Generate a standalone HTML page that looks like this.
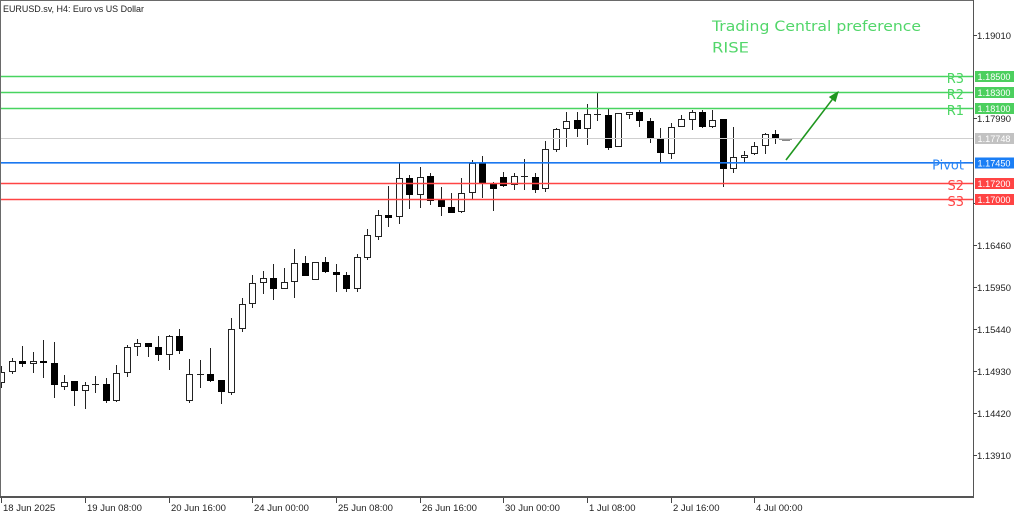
<!DOCTYPE html>
<html><head><meta charset="utf-8"><style>
html,body{margin:0;padding:0;background:#fff;}
svg{display:block;}
.t{font-family:"Liberation Sans",sans-serif;}
.v{font-family:"DejaVu Sans","Liberation Sans",sans-serif;}
</style></head><body>
<svg width="1024" height="516" viewBox="0 0 1024 516" xmlns="http://www.w3.org/2000/svg">
<rect x="0" y="0" width="1024" height="516" fill="#fff"/>
<defs><clipPath id="ca"><rect x="1" y="1" width="972" height="496"/></clipPath></defs>
<g clip-path="url(#ca)">
<g stroke="#222" stroke-width="1" shape-rendering="crispEdges">
<line x1="1.5" y1="366" x2="1.5" y2="388"/>
<line x1="12.5" y1="358" x2="12.5" y2="374"/>
<line x1="22.5" y1="346" x2="22.5" y2="367"/>
<line x1="33.5" y1="352" x2="33.5" y2="373"/>
<line x1="43.5" y1="340" x2="43.5" y2="378"/>
<line x1="54.5" y1="342" x2="54.5" y2="398"/>
<line x1="64.5" y1="375" x2="64.5" y2="390"/>
<line x1="74.5" y1="381" x2="74.5" y2="406"/>
<line x1="85.5" y1="382" x2="85.5" y2="409"/>
<line x1="95.5" y1="376" x2="95.5" y2="393"/>
<line x1="106.5" y1="378" x2="106.5" y2="403"/>
<line x1="116.5" y1="365" x2="116.5" y2="402"/>
<line x1="127.5" y1="345" x2="127.5" y2="377"/>
<line x1="137.5" y1="339" x2="137.5" y2="356"/>
<line x1="148.5" y1="343" x2="148.5" y2="357"/>
<line x1="158.5" y1="336" x2="158.5" y2="361"/>
<line x1="169.5" y1="335" x2="169.5" y2="370"/>
<line x1="179.5" y1="329" x2="179.5" y2="354"/>
<line x1="189.5" y1="359" x2="189.5" y2="403"/>
<line x1="200.5" y1="360" x2="200.5" y2="388"/>
<line x1="210.5" y1="348" x2="210.5" y2="382"/>
<line x1="221.5" y1="380" x2="221.5" y2="404"/>
<line x1="231.5" y1="318" x2="231.5" y2="395"/>
<line x1="242.5" y1="298" x2="242.5" y2="332"/>
<line x1="252.5" y1="275" x2="252.5" y2="308"/>
<line x1="263.5" y1="271" x2="263.5" y2="294"/>
<line x1="273.5" y1="264" x2="273.5" y2="300"/>
<line x1="284.5" y1="268" x2="284.5" y2="289"/>
<line x1="294.5" y1="249" x2="294.5" y2="298"/>
<line x1="305.5" y1="256" x2="305.5" y2="276"/>
<line x1="315.5" y1="262" x2="315.5" y2="280"/>
<line x1="325.5" y1="257" x2="325.5" y2="273"/>
<line x1="336.5" y1="264" x2="336.5" y2="292"/>
<line x1="346.5" y1="272" x2="346.5" y2="292"/>
<line x1="357.5" y1="254" x2="357.5" y2="292"/>
<line x1="367.5" y1="229" x2="367.5" y2="260"/>
<line x1="378.5" y1="210" x2="378.5" y2="240"/>
<line x1="388.5" y1="186" x2="388.5" y2="227"/>
<line x1="399.5" y1="163" x2="399.5" y2="224"/>
<line x1="409.5" y1="175" x2="409.5" y2="209"/>
<line x1="420.5" y1="167" x2="420.5" y2="208"/>
<line x1="430.5" y1="173" x2="430.5" y2="205"/>
<line x1="441.5" y1="187" x2="441.5" y2="216"/>
<line x1="451.5" y1="193" x2="451.5" y2="213"/>
<line x1="461.5" y1="178" x2="461.5" y2="213"/>
<line x1="472.5" y1="160" x2="472.5" y2="199"/>
<line x1="482.5" y1="156" x2="482.5" y2="198"/>
<line x1="493.5" y1="182" x2="493.5" y2="211"/>
<line x1="503.5" y1="172" x2="503.5" y2="187"/>
<line x1="514.5" y1="173" x2="514.5" y2="190"/>
<line x1="524.5" y1="159" x2="524.5" y2="190"/>
<line x1="535.5" y1="173" x2="535.5" y2="193"/>
<line x1="545.5" y1="141" x2="545.5" y2="192"/>
<line x1="556.5" y1="128" x2="556.5" y2="152"/>
<line x1="566.5" y1="112" x2="566.5" y2="147"/>
<line x1="577.5" y1="112" x2="577.5" y2="137"/>
<line x1="587.5" y1="104" x2="587.5" y2="145"/>
<line x1="597.5" y1="93" x2="597.5" y2="121"/>
<line x1="608.5" y1="109" x2="608.5" y2="150"/>
<line x1="618.5" y1="113" x2="618.5" y2="147"/>
<line x1="629.5" y1="112" x2="629.5" y2="119"/>
<line x1="639.5" y1="110" x2="639.5" y2="127"/>
<line x1="650.5" y1="118" x2="650.5" y2="143"/>
<line x1="660.5" y1="128" x2="660.5" y2="163"/>
<line x1="671.5" y1="123" x2="671.5" y2="159"/>
<line x1="681.5" y1="115" x2="681.5" y2="127"/>
<line x1="692.5" y1="110" x2="692.5" y2="130"/>
<line x1="702.5" y1="110" x2="702.5" y2="128"/>
<line x1="712.5" y1="110" x2="712.5" y2="128"/>
<line x1="723.5" y1="119" x2="723.5" y2="187"/>
<line x1="733.5" y1="127" x2="733.5" y2="173"/>
<line x1="744.5" y1="151" x2="744.5" y2="163"/>
<line x1="754.5" y1="142" x2="754.5" y2="155"/>
<line x1="765.5" y1="133" x2="765.5" y2="154"/>
<line x1="775.5" y1="130" x2="775.5" y2="144"/>
<!-- doji bars -->
<line x1="92" y1="384.5" x2="99" y2="384.5"/>
<line x1="197" y1="374.5" x2="204" y2="374.5"/>
<line x1="521" y1="176.5" x2="528" y2="176.5"/>
<line x1="594" y1="114.5" x2="601" y2="114.5"/>
</g>
<g fill="#fff" stroke="#222" stroke-width="1" shape-rendering="crispEdges">
<rect x="-1.5" y="372.5" width="6" height="10"/>
<rect x="9.5" y="361.5" width="6" height="10"/>
<rect x="30.5" y="361.5" width="6" height="2"/>
<rect x="61.5" y="382.5" width="6" height="4"/>
<rect x="82.5" y="385.5" width="6" height="5"/>
<rect x="113.5" y="373.5" width="6" height="27"/>
<rect x="124.5" y="347.5" width="6" height="25"/>
<rect x="134.5" y="343.5" width="6" height="3"/>
<rect x="166.5" y="336.5" width="6" height="18"/>
<rect x="186.5" y="374.5" width="6" height="26"/>
<rect x="228.5" y="329.5" width="6" height="63"/>
<rect x="239.5" y="304.5" width="6" height="24"/>
<rect x="249.5" y="283.5" width="6" height="20"/>
<rect x="260.5" y="278.5" width="6" height="4"/>
<rect x="281.5" y="282.5" width="6" height="6"/>
<rect x="291.5" y="263.5" width="6" height="18"/>
<rect x="312.5" y="262.5" width="6" height="17"/>
<rect x="354.5" y="257.5" width="6" height="31"/>
<rect x="364.5" y="235.5" width="6" height="22"/>
<rect x="375.5" y="215.5" width="6" height="21"/>
<rect x="396.5" y="178.5" width="6" height="38"/>
<rect x="417.5" y="177.5" width="6" height="17"/>
<rect x="458.5" y="193.5" width="6" height="18"/>
<rect x="469.5" y="163.5" width="6" height="29"/>
<rect x="511.5" y="176.5" width="6" height="8"/>
<rect x="542.5" y="149.5" width="6" height="39"/>
<rect x="553.5" y="129.5" width="6" height="20"/>
<rect x="563.5" y="121.5" width="6" height="7"/>
<rect x="584.5" y="114.5" width="6" height="14"/>
<rect x="615.5" y="113.5" width="6" height="33"/>
<rect x="626.5" y="112.5" width="6" height="2"/>
<rect x="668.5" y="127.5" width="6" height="26"/>
<rect x="678.5" y="119.5" width="6" height="7"/>
<rect x="689.5" y="112.5" width="6" height="7"/>
<rect x="709.5" y="120.5" width="6" height="6"/>
<rect x="730.5" y="157.5" width="6" height="11"/>
<rect x="741.5" y="155.5" width="6" height="2"/>
<rect x="751.5" y="146.5" width="6" height="7"/>
<rect x="762.5" y="134.5" width="6" height="11"/>
</g>
<g fill="#000" shape-rendering="crispEdges">
<rect x="19" y="361" width="7" height="3"/>
<rect x="40" y="361" width="7" height="2"/>
<rect x="51" y="363" width="7" height="22"/>
<rect x="71" y="381" width="7" height="10"/>
<rect x="103" y="384" width="7" height="17"/>
<rect x="145" y="343" width="7" height="4"/>
<rect x="155" y="347" width="7" height="8"/>
<rect x="176" y="336" width="7" height="15"/>
<rect x="207" y="374" width="7" height="7"/>
<rect x="218" y="380" width="7" height="12"/>
<rect x="270" y="278" width="7" height="11"/>
<rect x="302" y="263" width="7" height="13"/>
<rect x="322" y="262" width="7" height="10"/>
<rect x="333" y="272" width="7" height="3"/>
<rect x="343" y="275" width="7" height="14"/>
<rect x="385" y="215" width="7" height="3"/>
<rect x="406" y="178" width="7" height="17"/>
<rect x="427" y="176" width="7" height="25"/>
<rect x="438" y="200" width="7" height="7"/>
<rect x="448" y="207" width="7" height="6"/>
<rect x="479" y="163" width="7" height="20"/>
<rect x="490" y="183" width="7" height="6"/>
<rect x="500" y="177" width="7" height="9"/>
<rect x="532" y="177" width="7" height="13"/>
<rect x="574" y="120" width="7" height="9"/>
<rect x="605" y="115" width="7" height="33"/>
<rect x="636" y="112" width="7" height="9"/>
<rect x="647" y="121" width="7" height="17"/>
<rect x="657" y="138" width="7" height="15"/>
<rect x="699" y="112" width="7" height="15"/>
<rect x="720" y="119" width="7" height="50"/>
<rect x="772" y="134" width="7" height="5"/>
</g>
<!-- current bar -->
<rect x="782.5" y="138.5" width="7" height="2" fill="#fff" stroke="#888" stroke-width="1" shape-rendering="crispEdges"/>
<line x1="779" y1="139.5" x2="792" y2="139.5" stroke="#999" stroke-width="1"/>

<!-- level lines -->
<line x1="0" y1="138.5" x2="973" y2="138.5" stroke="#cfcfcf" stroke-width="1"/>
<line x1="0" y1="76.5" x2="973" y2="76.5" stroke="#48d460" stroke-width="1.6"/>
<line x1="0" y1="92.5" x2="973" y2="92.5" stroke="#48d460" stroke-width="1.6"/>
<line x1="0" y1="108.5" x2="973" y2="108.5" stroke="#48d460" stroke-width="1.6"/>
<line x1="0" y1="162.8" x2="973" y2="162.8" stroke="#1a78f0" stroke-width="1.6"/>
<line x1="0" y1="183.5" x2="973" y2="183.5" stroke="#ff4444" stroke-width="1.6"/>
<line x1="0" y1="199.5" x2="973" y2="199.5" stroke="#ff4444" stroke-width="1.6"/>

<!-- level labels -->
<g class="v" font-size="13" text-anchor="end">
<text x="964" y="83" fill="#4cd663">R3</text>
<text x="964" y="99" fill="#4cd663">R2</text>
<text x="964" y="115" fill="#4cd663">R1</text>
<text x="964" y="169.5" fill="#2a86f5">Pivot</text>
<text x="964" y="190" fill="#ff4646">S2</text>
<text x="964" y="206" fill="#ff4646">S3</text>
</g>

<!-- arrow -->
<line x1="786" y1="160" x2="832.5" y2="99.2" stroke="#1f961f" stroke-width="1.6"/>
<polygon points="838,92 835.3,101.3 829.7,97" fill="#1f961f" stroke="#1f961f" stroke-width="1"/>

<!-- heading -->
<g class="v" font-size="14" fill="#52d66a">
<text x="712" y="31" textLength="209" lengthAdjust="spacingAndGlyphs">Trading Central preference</text>
<text x="712" y="52.5" textLength="37" lengthAdjust="spacingAndGlyphs">RISE</text>
</g>
</g>

<!-- title -->
<text class="t" x="3" y="12" font-size="9.5" fill="#222" textLength="141" lengthAdjust="spacingAndGlyphs">EURUSD.sv, H4:  Euro vs US Dollar</text>

<!-- frame -->
<g shape-rendering="crispEdges">
<line x1="0.5" y1="0" x2="0.5" y2="498" stroke="#6a6a6a" stroke-width="1"/>
<line x1="0" y1="0.5" x2="974" y2="0.5" stroke="#6a6a6a" stroke-width="1"/>
<line x1="973.5" y1="0" x2="973.5" y2="498" stroke="#555" stroke-width="1"/>
<rect x="0" y="496" width="974" height="2" fill="#555"/>
</g>

<!-- y axis ticks and labels -->
<g stroke="#444" stroke-width="1" shape-rendering="crispEdges">
<line x1="973" y1="35.5" x2="977" y2="35.5"/>
<line x1="973" y1="118.5" x2="977" y2="118.5"/>
<line x1="973" y1="203.5" x2="977" y2="203.5"/>
<line x1="973" y1="245.5" x2="977" y2="245.5"/>
<line x1="973" y1="287.5" x2="977" y2="287.5"/>
<line x1="973" y1="329.5" x2="977" y2="329.5"/>
<line x1="973" y1="371.5" x2="977" y2="371.5"/>
<line x1="973" y1="413.5" x2="977" y2="413.5"/>
<line x1="973" y1="455.5" x2="977" y2="455.5"/>
</g>
<g class="t" font-size="9.5" fill="#222">
<text x="977" y="39" textLength="34" lengthAdjust="spacingAndGlyphs">1.19010</text>
<text x="977" y="122" textLength="34" lengthAdjust="spacingAndGlyphs">1.17990</text>
<text x="977" y="249" textLength="34" lengthAdjust="spacingAndGlyphs">1.16460</text>
<text x="977" y="291" textLength="34" lengthAdjust="spacingAndGlyphs">1.15950</text>
<text x="977" y="333" textLength="34" lengthAdjust="spacingAndGlyphs">1.15440</text>
<text x="977" y="375" textLength="34" lengthAdjust="spacingAndGlyphs">1.14930</text>
<text x="977" y="417" textLength="34" lengthAdjust="spacingAndGlyphs">1.14420</text>
<text x="977" y="459" textLength="34" lengthAdjust="spacingAndGlyphs">1.13910</text>
</g>

<!-- price boxes -->
<g shape-rendering="crispEdges">
<rect x="975" y="71" width="39" height="11" fill="#4ccf5e"/>
<rect x="975" y="87" width="39" height="11" fill="#4ccf5e"/>
<rect x="975" y="103" width="39" height="11" fill="#4ccf5e"/>
<rect x="975" y="133" width="39" height="11" fill="#c2c2c2"/>
<rect x="975" y="157.5" width="39" height="11" fill="#1a7ef5"/>
<rect x="975" y="178" width="39" height="11" fill="#ff4444"/>
<rect x="975" y="194" width="39" height="11" fill="#ff4444"/>
</g>
<g class="t" font-size="9.5" fill="#fff">
<text x="977.5" y="80" textLength="33" lengthAdjust="spacingAndGlyphs">1.18500</text>
<text x="977.5" y="96" textLength="33" lengthAdjust="spacingAndGlyphs">1.18300</text>
<text x="977.5" y="112" textLength="33" lengthAdjust="spacingAndGlyphs">1.18100</text>
<text x="977.5" y="142" textLength="33" lengthAdjust="spacingAndGlyphs">1.17748</text>
<text x="977.5" y="166.5" textLength="33" lengthAdjust="spacingAndGlyphs">1.17450</text>
<text x="977.5" y="187" textLength="33" lengthAdjust="spacingAndGlyphs">1.17200</text>
<text x="977.5" y="203" textLength="33" lengthAdjust="spacingAndGlyphs">1.17000</text>
</g>

<!-- x axis ticks and labels -->
<g stroke="#444" stroke-width="1" shape-rendering="crispEdges">
<line x1="1.5" y1="498" x2="1.5" y2="503"/>
<line x1="85.5" y1="498" x2="85.5" y2="503"/>
<line x1="169.5" y1="498" x2="169.5" y2="503"/>
<line x1="252.5" y1="498" x2="252.5" y2="503"/>
<line x1="336.5" y1="498" x2="336.5" y2="503"/>
<line x1="420.5" y1="498" x2="420.5" y2="503"/>
<line x1="503.5" y1="498" x2="503.5" y2="503"/>
<line x1="587.5" y1="498" x2="587.5" y2="503"/>
<line x1="671.5" y1="498" x2="671.5" y2="503"/>
<line x1="754.5" y1="498" x2="754.5" y2="503"/>
</g>
<g class="t" font-size="9.5" fill="#222">
<text x="3" y="511">18 Jun 2025</text>
<text x="87" y="511">19 Jun 08:00</text>
<text x="171" y="511">20 Jun 16:00</text>
<text x="254" y="511">24 Jun 00:00</text>
<text x="338" y="511">25 Jun 08:00</text>
<text x="422" y="511">26 Jun 16:00</text>
<text x="505" y="511">30 Jun 00:00</text>
<text x="589" y="511">1 Jul 08:00</text>
<text x="673" y="511">2 Jul 16:00</text>
<text x="756" y="511">4 Jul 00:00</text>
</g>
</svg>
</body></html>
